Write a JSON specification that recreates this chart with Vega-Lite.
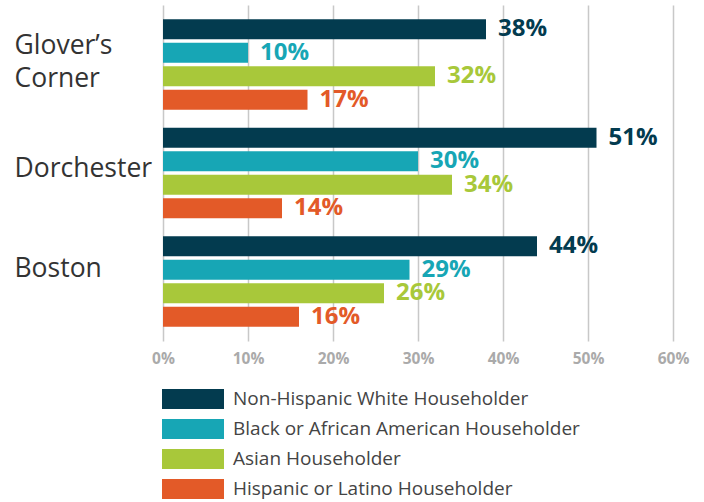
{
  "$schema": "https://vega.github.io/schema/vega-lite/v6.json",
  "width": 510,
  "height": 336,
  "autosize": {"type": "none"},
  "padding": {"left": 163, "top": 5, "right": 31, "bottom": 161},
  "background": "white",
  "config": {"font": "Open Sans", "view": {"stroke": null}},
  "data": {
    "values": [
      {"place": "Glover’s Corner", "group": "Non-Hispanic White Householder", "value": 0.38},
      {"place": "Glover’s Corner", "group": "Black or African American Householder", "value": 0.10},
      {"place": "Glover’s Corner", "group": "Asian Householder", "value": 0.32},
      {"place": "Glover’s Corner", "group": "Hispanic or Latino Householder", "value": 0.17},
      {"place": "Dorchester", "group": "Non-Hispanic White Householder", "value": 0.51},
      {"place": "Dorchester", "group": "Black or African American Householder", "value": 0.30},
      {"place": "Dorchester", "group": "Asian Householder", "value": 0.34},
      {"place": "Dorchester", "group": "Hispanic or Latino Householder", "value": 0.14},
      {"place": "Boston", "group": "Non-Hispanic White Householder", "value": 0.44},
      {"place": "Boston", "group": "Black or African American Householder", "value": 0.29},
      {"place": "Boston", "group": "Asian Householder", "value": 0.26},
      {"place": "Boston", "group": "Hispanic or Latino Householder", "value": 0.16}
    ]
  },
  "encoding": {
    "y": {
      "field": "place", "type": "nominal", "sort": null,
      "scale": {"paddingInner": 0.144, "paddingOuter": 0.12},
      "axis": {
        "title": null, "domain": false, "ticks": false, "tickSize": 0,
        "labelAlign": "left", "labelPadding": 149, "labelFontSize": 26.5,
        "labelColor": "#333333", "labelLimit": 0, "labelLineHeight": 32.5,
        "labelOffset": {
          "condition": [
            {"test": "datum.value == 'Boston'", "value": -13},
            {"test": "datum.value == 'Dorchester'", "value": -4}
          ],
          "value": -18
        },
        "labelExpr": "datum.value == 'Glover’s Corner' ? ['Glover’s', 'Corner'] : datum.value"
      }
    },
    "yOffset": {
      "field": "group", "type": "nominal", "sort": null,
      "scale": {"paddingInner": 0.15, "paddingOuter": 0.05}
    },
    "x": {
      "field": "value", "type": "quantitative",
      "scale": {"domain": [0, 0.6]},
      "axis": {
        "title": null, "domain": false, "ticks": false, "format": ".0%",
        "values": [0, 0.1, 0.2, 0.3, 0.4, 0.5, 0.6], "labelFlush": false,
        "gridColor": "#c8c8c8", "gridWidth": 1.5,
        "labelColor": "#aaaaaa", "labelFontWeight": "bold", "labelFontSize": 15.5,
        "labelPadding": 10
      }
    },
    "color": {
      "field": "group", "type": "nominal", "sort": null,
      "scale": {
        "domain": ["Non-Hispanic White Householder", "Black or African American Householder", "Asian Householder", "Hispanic or Latino Householder"],
        "range": ["#033b4f", "#17a6b5", "#a8c83a", "#e35a28"]
      },
      "legend": {
        "title": null, "orient": "none", "legendX": -1, "legendY": 384,
        "direction": "vertical", "padding": 0,
        "symbolType": "M-1,-0.3226H1V0.3226H-1Z", "symbolSize": 3844,
        "symbolStrokeWidth": 0, "symbolOpacity": 1, "clipHeight": 20, "rowPadding": 10,
        "labelFontSize": 19, "labelColor": "#444444", "labelOffset": 9, "labelLimit": 0
      }
    }
  },
  "layer": [
    {"mark": {"type": "bar"}},
    {
      "mark": {"type": "text", "align": "left", "baseline": "middle", "dx": 12, "fontSize": 24, "fontWeight": "bold"},
      "encoding": {"text": {"field": "value", "type": "quantitative", "format": ".0%"}}
    }
  ]
}
